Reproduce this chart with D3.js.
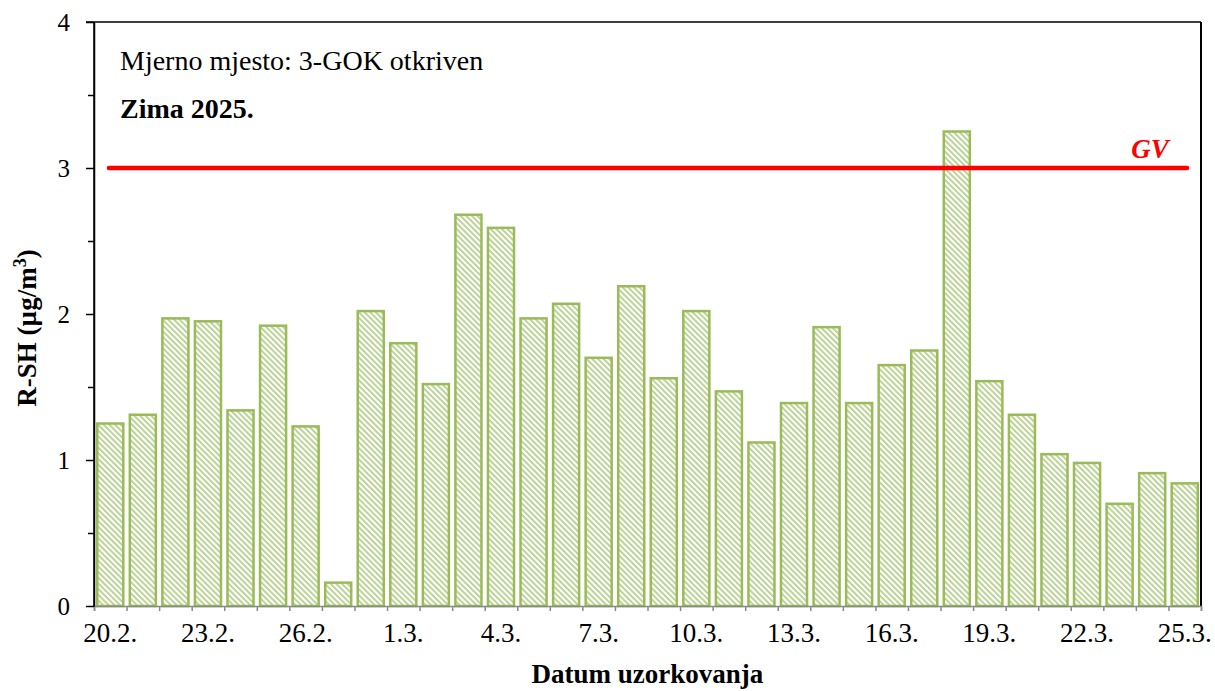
<!DOCTYPE html>
<html>
<head>
<meta charset="utf-8">
<script src="https://cdn.jsdelivr.net/npm/d3@7"></script>
<style>
  html, body { margin: 0; padding: 0; background: #fff; }
  svg { display: block; }
  text { font-family: "Liberation Serif", "Times New Roman", serif; fill: #000; }
</style>
</head>
<body>
<svg id="chart" width="1215" height="691"></svg>
<script>
const dates = ["20.2.","21.2.","22.2.","23.2.","24.2.","25.2.","26.2.","27.2.","28.2.",
  "1.3.","2.3.","3.3.","4.3.","5.3.","6.3.","7.3.","8.3.","9.3.","10.3.","11.3.","12.3.",
  "13.3.","14.3.","15.3.","16.3.","17.3.","18.3.","19.3.","20.3.","21.3.","22.3.","23.3.","24.3.","25.3."];
const values = [1.25, 1.31, 1.97, 1.95, 1.34, 1.92, 1.23, 0.16, 2.02,
  1.80, 1.52, 2.68, 2.59, 1.97, 2.07, 1.70, 2.19, 1.56, 2.02, 1.47, 1.12,
  1.39, 1.91, 1.39, 1.65, 1.75, 3.25, 1.54, 1.31, 1.04, 0.98, 0.70, 0.91, 0.84];
const tickLabels = ["20.2.","23.2.","26.2.","1.3.","4.3.","7.3.","10.3.","13.3.","16.3.","19.3.","22.3.","25.3."];
const yTicks = [0, 1, 2, 3, 4];
const yMinorTicks = [0.5, 1.5, 2.5, 3.5];
const limitValue = 3;
const limitLabel = "GV";
const siteLabel = "Mjerno mjesto: 3-GOK otkriven";
const seasonLabel = "Zima 2025.";
const xTitle = "Datum uzorkovanja";

const svg = d3.select("#chart");
const L = 94, R = 1201, T = 22, B = 606;

const x = d3.scaleBand().domain(dates).range([L, R]).paddingInner(0.2).paddingOuter(0.1);
const xi = d3.scaleLinear().domain([0, dates.length]).range([L, R]);
const y = d3.scaleLinear().domain([0, 4]).range([B, T]);

// hatch pattern
const defs = svg.append("defs");
const pat = defs.append("pattern")
  .attr("id", "hatch").attr("patternUnits", "userSpaceOnUse")
  .attr("width", 4).attr("height", 4)
  .attr("patternTransform", "rotate(-45)");
pat.append("rect").attr("width", 4).attr("height", 4).attr("fill", "#fff");
pat.append("line").attr("x1", 1).attr("x2", 1).attr("y1", 0).attr("y2", 4)
  .attr("stroke", "#bcd497").attr("stroke-width", 2);

// bars
svg.append("g").selectAll("rect").data(values).join("rect")
  .attr("x", (d, i) => x(dates[i]))
  .attr("y", d => y(d))
  .attr("width", x.bandwidth())
  .attr("height", d => y(0) - y(d))
  .attr("fill", "url(#hatch)")
  .attr("stroke", "#9bbb59")
  .attr("stroke-width", 2.5);

// frame: top and right
svg.append("line").attr("x1", L - 8).attr("x2", R).attr("y1", T).attr("y2", T)
  .attr("stroke", "#000").attr("stroke-width", 1.5);
svg.append("line").attr("x1", R).attr("x2", R).attr("y1", T).attr("y2", B)
  .attr("stroke", "#000").attr("stroke-width", 2);

// x axis (gray) with boundary ticks
const xAxisTicks = d3.axisBottom(xi).tickValues(d3.range(0, dates.length + 1)).tickFormat("").tickSizeOuter(0).tickSize(5);
const gx = svg.append("g").attr("transform", `translate(0,${B})`).call(xAxisTicks);
gx.selectAll("path,line").attr("stroke", "#888").attr("stroke-width", 1.5);

const xAxisLabels = d3.axisBottom(x).tickValues(tickLabels).tickSize(0).tickPadding(17);
const gxl = svg.append("g").attr("transform", `translate(0,${B})`).call(xAxisLabels);
gxl.select(".domain").remove();
gxl.selectAll("text").style("font-family", "Liberation Serif").style("font-size", "27px").attr("fill", "#000");

// y axis
const gy = svg.append("g").attr("transform", `translate(${L},0)`)
  .call(d3.axisLeft(y).tickValues(yTicks).tickFormat(d3.format("d")).tickSize(8).tickSizeOuter(0).tickPadding(16));
gy.selectAll("path,line").attr("stroke", "#000").attr("stroke-width", 1.5);
gy.selectAll("text").style("font-family", "Liberation Serif").style("font-size", "25px").attr("fill", "#000");
const gym = svg.append("g").attr("transform", `translate(${L},0)`)
  .call(d3.axisLeft(y).tickValues(yMinorTicks).tickFormat("").tickSize(6).tickSizeOuter(0));
gym.select(".domain").remove();
gym.selectAll("line").attr("stroke", "#000").attr("stroke-width", 1.5);
// redraw the left axis line over bars
svg.append("line").attr("x1", L).attr("x2", L).attr("y1", T).attr("y2", B)
  .attr("stroke", "#000").attr("stroke-width", 1.5);

// GV limit line
svg.append("line")
  .attr("x1", 109).attr("x2", 1187)
  .attr("y1", y(limitValue)).attr("y2", y(limitValue))
  .attr("stroke", "#ff0000").attr("stroke-width", 4.5).attr("stroke-linecap", "round");
svg.append("text").attr("x", 1150).attr("y", 158).attr("text-anchor", "middle")
  .style("font-size", "27px").style("font-weight", "bold").style("font-style", "italic")
  .attr("fill", "#ff0000").style("fill", "#ff0000").text(limitLabel);

// annotations
svg.append("text").attr("x", 120).attr("y", 70).style("font-size", "28px").text(siteLabel);
svg.append("text").attr("x", 120).attr("y", 118).style("font-size", "28px").style("font-weight", "bold").text(seasonLabel);

// axis titles
svg.append("text").attr("x", (L + R) / 2).attr("y", 683).attr("text-anchor", "middle")
  .style("font-size", "27px").style("font-weight", "bold").text(xTitle);

const yt = svg.append("text").attr("transform", `translate(36,${(T + B) / 2 + 14}) rotate(-90)`)
  .attr("text-anchor", "middle").style("font-size", "27px").style("font-weight", "bold");
yt.append("tspan").text("R-SH (µg/m");
yt.append("tspan").attr("dy", -10).style("font-size", "18px").text("3");
yt.append("tspan").attr("dy", 10).text(")");
</script>
</body>
</html>
